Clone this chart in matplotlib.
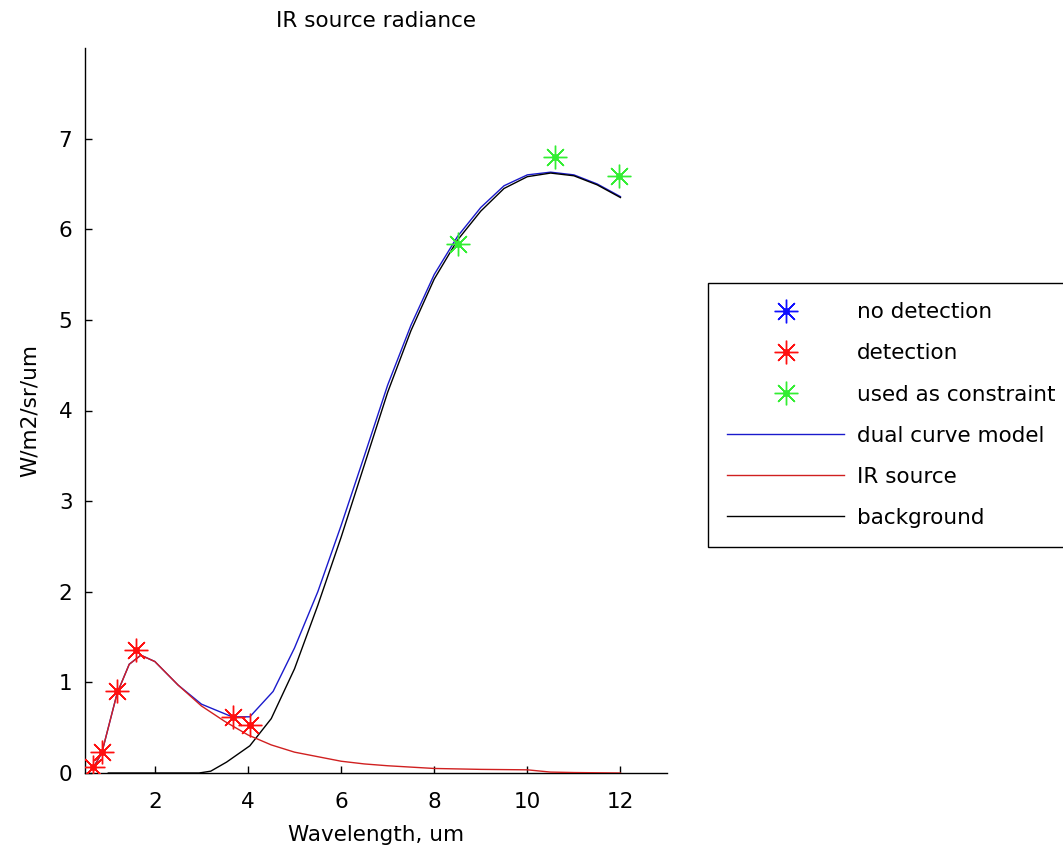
import numpy as np
import matplotlib.pyplot as plt

plt.rcParams['font.family'] = ['DejaVu Sans']
plt.rcParams['font.size'] = 15.5

# measured points
no_det_x = []
no_det_y = []
det_x = [0.68, 0.86, 1.19, 1.59, 3.68, 4.04]
det_y = [0.07, 0.23, 0.91, 1.36, 0.62, 0.53]
con_x = [8.51, 10.60, 11.97]
con_y = [5.84, 6.80, 6.59]

# model curves
ir_x = [0.68, 0.86, 1.19, 1.45, 1.7, 2.0, 2.5, 3.0, 3.5, 4.0, 4.5, 5.0, 5.5, 6.0,
        6.5, 7.0, 8.0, 9.0, 10.0, 10.5, 11.0, 12.0]
ir_y = [0.06, 0.22, 0.88, 1.20, 1.30, 1.23, 0.97, 0.74, 0.57, 0.42, 0.31, 0.23, 0.18, 0.13,
        0.10, 0.08, 0.05, 0.04, 0.035, 0.01, 0.005, 0.0]

bg_x = [1.0, 1.5, 2.0, 2.5, 2.95, 3.2, 3.54, 4.04, 4.5, 5.0, 5.5, 6.0, 6.5, 7.0, 7.5,
        8.0, 8.5, 9.0, 9.5, 10.0, 10.5, 11.0, 11.5, 12.0]
bg_y = [0.0, 0.0, 0.0, 0.0, 0.0, 0.02, 0.12, 0.30, 0.60, 1.15, 1.85, 2.60, 3.40, 4.20, 4.88,
        5.45, 5.88, 6.20, 6.45, 6.58, 6.62, 6.59, 6.49, 6.35]

dual_x = [0.68, 0.86, 1.19, 1.45, 1.7, 2.0, 2.5, 3.0, 3.66, 4.04, 4.54, 5.0, 5.5, 6.0,
          6.5, 7.0, 7.5, 8.0, 8.5, 9.0, 9.5, 10.0, 10.5, 11.0, 11.5, 12.0]
dual_y = [0.06, 0.22, 0.88, 1.20, 1.30, 1.23, 0.97, 0.76, 0.62, 0.62, 0.90, 1.38, 2.00, 2.73,
          3.50, 4.28, 4.94, 5.50, 5.92, 6.24, 6.48, 6.60, 6.63, 6.60, 6.50, 6.36]

fig = plt.figure(figsize=(10.63, 8.59), dpi=100)
ax = fig.add_axes([85 / 1063, 86 / 859, 582 / 1063, 725 / 859])

star = (8, 2, 0)
ms = 17

def points(x, y, c):
    s, = ax.plot(x, y, linestyle='none', marker=star, ms=ms, mec=c, mew=1.0, zorder=4)
    d, = ax.plot(x, y, linestyle='none', marker='o', ms=4, mfc=c, mec=c, zorder=4)
    return (s, d)

h_no = points(no_det_x, no_det_y, '#1010ff')
h_det = points(det_x, det_y, '#ff1010')
h_con = points(con_x, con_y, '#33ee33')

l_dual, = ax.plot(dual_x, dual_y, color='#1a1acc', lw=1.0, zorder=2)
l_ir, = ax.plot(ir_x, ir_y, color='#d02020', lw=1.0, zorder=3)
l_bg, = ax.plot(bg_x, bg_y, color='black', lw=1.0, zorder=2)

ax.set_xlim(0.5, 13)
ax.set_ylim(0, 8)
ax.set_xticks([2, 4, 6, 8, 10, 12])
ax.set_yticks(range(8))
for s in ['top', 'right']:
    ax.spines[s].set_visible(False)
for s in ['left', 'bottom']:
    ax.spines[s].set_linewidth(1.0)
ax.tick_params(direction='in', length=5, width=1.0)
ax.tick_params(axis='x', pad=14)
ax.tick_params(axis='y', pad=9)

ax.set_title('IR source radiance', fontsize=15.5, pad=15)
ax.set_xlabel('Wavelength, um', labelpad=9)
ax.set_ylabel('W/m2/sr/um', labelpad=14)

leg = ax.legend([h_no, h_det, h_con, l_dual, l_ir, l_bg],
                ['no detection', 'detection', 'used as constraint',
                 'dual curve model', 'IR source', 'background'],
                loc='upper left', bbox_to_anchor=(708 / 1063, 1 - 283 / 859),
                bbox_transform=fig.transFigure, borderaxespad=0,
                handlelength=5.4, handletextpad=0.62, borderpad=0.9,
                labelspacing=0.98, fancybox=False, framealpha=1,
                edgecolor='black')
leg.get_frame().set_linewidth(1.0)

fig.savefig('out.png', dpi=100)
